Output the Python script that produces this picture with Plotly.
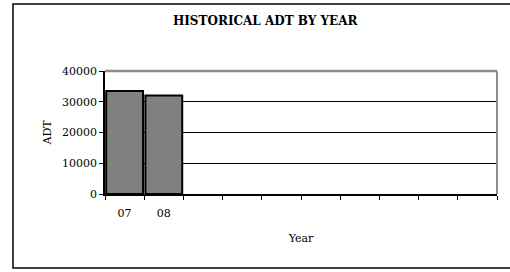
import plotly.graph_objects as go

years = ["07", "08"]
adt = [33500, 32000]
slot_names = ["07", "08", "s3", "s4", "s5", "s6", "s7", "s8", "s9", "s10"]
slot_labels = ["07", "08", "", "", "", "", "", "", "", ""]
y_ticks = [0, 10000, 20000, 30000, 40000]
y_tick_labels = ["0", "10000", "20000", "30000", "40000"]

FONT = "DejaVu Serif"

fig = go.Figure()
fig.add_trace(go.Bar(
    x=years, y=adt,
    marker=dict(color="#808080", line=dict(color="black", width=2)),
    showlegend=False,
))

fig.update_layout(
    width=510, height=272,
    margin=dict(l=105, r=13, t=71, b=78, autoexpand=False),
    paper_bgcolor="white", plot_bgcolor="white",
    bargap=0.06,
    font=dict(family=FONT, size=11, color="black"),
    title=dict(text="<b>HISTORICAL ADT BY YEAR</b>", x=0.52, xanchor="center",
               y=1 - 21 / 272, yanchor="middle",
               font=dict(family=FONT, size=12, color="black")),
    xaxis=dict(
        type="category", categoryorder="array", categoryarray=slot_names,
        tickmode="array", tickvals=slot_names, ticktext=slot_labels,
        tickson="boundaries", ticks="outside", ticklen=4, tickcolor="black",
        showline=True, linecolor="black", linewidth=1.5,
        showgrid=False, range=[-0.5, 9.5], automargin=False,
        ticklabelstandoff=8,
        title=dict(text="Year", standoff=15, font=dict(family=FONT, size=11)),
    ),
    yaxis=dict(
        range=[0, 40000], tickmode="array", tickvals=y_ticks, ticktext=y_tick_labels,
        ticks="outside", ticklen=4, tickcolor="black",
        showline=True, linecolor="black", linewidth=1.5,
        showgrid=True, gridcolor="black", gridwidth=1,
        zeroline=False, automargin=False,
        title=dict(text="ADT", standoff=8, font=dict(family=FONT, size=11)),
    ),
    shapes=[
        dict(type="line", xref="paper", yref="paper", x0=0, x1=1, y0=1, y1=1,
             line=dict(color="#8c8c8c", width=2.5), layer="above"),
        dict(type="line", xref="paper", yref="paper", x0=1, x1=1, y0=0, y1=1,
             line=dict(color="#8c8c8c", width=2), layer="above"),
        dict(type="rect", xref="paper", yref="paper",
             x0=(13 - 105) / 392, x1=(512 - 105) / 392,
             y0=(194 - 268) / 123, y1=(194 - 4) / 123,
             line=dict(color="black", width=1.5), layer="below"),
    ],
)

fig.write_html("out.html",
               config={"displayModeBar": False},
               post_script="document.body.style.margin='0';document.body.style.overflow='hidden';")
